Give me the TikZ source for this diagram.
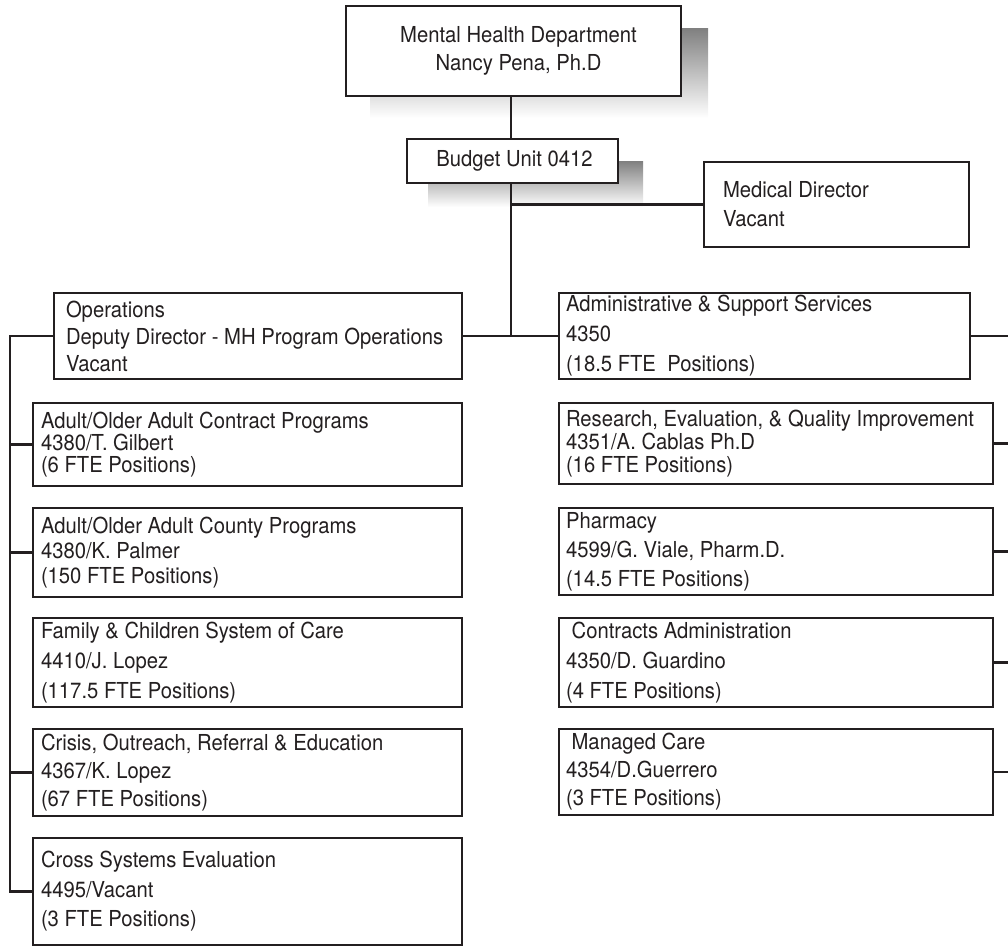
\documentclass[tikz,border=0pt]{standalone}
\usepackage{fontspec}
\setmainfont{TeX Gyre Heros}[FakeStretch=0.92]
\definecolor{ink}{HTML}{231F20}
\definecolor{shade}{HTML}{C8C9CB}

\begin{document}
\begin{tikzpicture}[x=1pt,y=-1pt,
  every node/.style={inner sep=0pt, outer sep=0pt},
  box/.style={draw=ink, line width=2.2pt, fill=white, anchor=north west},
  txt/.style={anchor=west, align=left, text=ink},
  ls/.style={font=\fontsize{22}{#1}\selectfont},
  link/.style={draw=ink, line width=2.4pt}]
\useasboundingbox (0,0) rectangle (1008,948);

% drop shadows behind the two top boxes
\fill[shade] (370,28) rectangle (708,118);
\fill[shade] (428,161) rectangle (643,207);

% department head and budget unit
\node[box, minimum width=335pt, minimum height=90pt] (dept) at (346,6) {};
\node[txt, ls=28, anchor=center, align=center, xshift=5pt] (dept-t) at (dept.center)
  {Mental Health Department\\Nancy Pena, Ph.D};

\node[box, minimum width=211pt, minimum height=44pt] (budget) at (407,139) {};
\node[txt, ls=28, anchor=center, xshift=2pt] (budget-t) at (budget.center) {Budget Unit 0412};

\node[box, minimum width=265pt, minimum height=85pt] (med) at (704,162) {};
\node[txt, ls=29, xshift=19pt] (med-t) at (med.west) {Medical Director\\Vacant};

% operations branch
\node[box, minimum width=408pt, minimum height=86pt] (ops) at (54,293) {};
\node[txt, ls=27, xshift=12pt] (ops-t) at (ops.west)
  {Operations\\Deputy Director - MH Program Operations\\Vacant};

\node[box, minimum width=429pt, minimum height=83pt] (contract) at (33,403) {};
\node[txt, ls=22, xshift=8pt] (contract-t) at (contract.west)
  {Adult/Older Adult Contract Programs\\4380/T. Gilbert\\(6 FTE Positions)};

\node[box, minimum width=429pt, minimum height=89pt] (county) at (33,508) {};
\node[txt, ls=25, xshift=8pt] (county-t) at (county.west)
  {Adult/Older Adult County Programs\\4380/K. Palmer\\(150 FTE Positions)};

\node[box, minimum width=429pt, minimum height=89pt] (family) at (33,618) {};
\node[txt, ls=30, xshift=8pt] (family-t) at (family.west)
  {Family \& Children System of Care\\4410/J. Lopez\\(117.5 FTE Positions)};

\node[box, minimum width=429pt, minimum height=87pt] (crisis) at (33,729) {};
\node[txt, ls=28, xshift=8pt] (crisis-t) at (crisis.west)
  {Crisis, Outreach, Referral \& Education\\4367/K. Lopez\\(67 FTE Positions)};

\node[box, minimum width=429pt, minimum height=107pt] (cross) at (33,838) {};
\node[txt, ls=29.5, xshift=8pt] (cross-t) at (cross.west)
  {Cross Systems Evaluation\\4495/Vacant\\(3 FTE Positions)};

% administrative branch
\node[box, minimum width=411pt, minimum height=86pt] (admin) at (559,293) {};
\node[txt, ls=30, xshift=7pt] (admin-t) at (admin.west)
  {Administrative \& Support Services\\4350\\(18.5 FTE~ Positions)};

\node[box, minimum width=434pt, minimum height=81pt] (research) at (559,403) {};
\node[txt, ls=23, xshift=7pt] (research-t) at (research.west)
  {Research, Evaluation, \& Quality Improvement\\4351/A. Cablas Ph.D\\(16 FTE Positions)};

\node[box, minimum width=434pt, minimum height=87pt] (pharmacy) at (559,508) {};
\node[txt, ls=29, xshift=7pt] (pharmacy-t) at (pharmacy.west)
  {Pharmacy\\4599/G. Viale, Pharm.D.\\(14.5 FTE Positions)};

\node[box, minimum width=434pt, minimum height=89pt] (contracts) at (559,618) {};
\node[txt, ls=30, xshift=7pt] (contracts-t) at (contracts.west)
  {\ Contracts Administration\\4350/D. Guardino\\(4 FTE Positions)};

\node[box, minimum width=434pt, minimum height=86pt] (managed) at (559,729) {};
\node[txt, ls=28, xshift=7pt] (managed-t) at (managed.west)
  {\ Managed Care\\4354/D.Guerrero\\(3 FTE Positions)};

% connectors
\coordinate (trunk) at (511,0);
\coordinate (lbus) at (10,0);
\coordinate (redge) at (1010,0);

\draw[link] (dept.south -| trunk) -- (budget.north -| trunk);
\draw[link] (budget.south -| trunk) -- (trunk |- ops.east);
\draw[link] (trunk |- med.west) -- (med.west);
\draw[link] (ops.east) -- (admin.west);
\draw[link] (ops.west) -- (ops.west -| lbus) |- (cross.west);
\foreach \n in {contract,county,crisis}
  \draw[link] (\n.west -| lbus) -- (\n.west);
\foreach \n in {admin,research,pharmacy,contracts,managed}
  \draw[link] (\n.east) -- (\n.east -| redge);
\end{tikzpicture}
\end{document}
